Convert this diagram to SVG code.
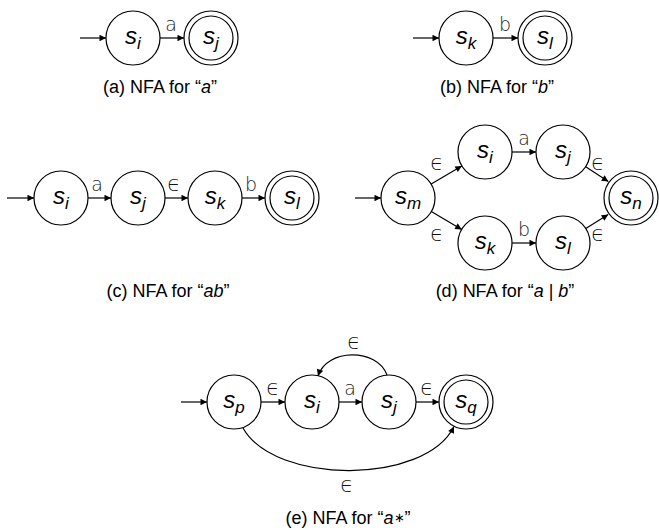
<svg xmlns="http://www.w3.org/2000/svg" width="659" height="530" viewBox="0 0 659 530">
<style>
  .n circle{fill:#fff;stroke:#000;stroke-width:1.2}
  .st{font-family:"Liberation Sans",Arial,sans-serif;font-style:italic;font-size:24px;text-anchor:middle;fill:#000}
  .sub{font-size:17px}
  .e{fill:none;stroke:#000;stroke-width:1.2;marker-end:url(#ah)}
  .lb{font-family:"DejaVu Sans",sans-serif;font-weight:200;font-size:19px;text-anchor:middle;fill:#222}
  .ep{font-family:"DejaVu Sans",sans-serif;font-weight:200;font-size:22px;text-anchor:middle;fill:#111}
  .cap{font-family:"Liberation Sans",Arial,sans-serif;font-size:18px;text-anchor:middle;fill:#000}
  .it{font-style:italic}
  .star{font-size:13px}
</style>
<defs>
  <marker id="ah" viewBox="0 0 10 10" refX="10" refY="5" markerWidth="10" markerHeight="6.5" markerUnits="userSpaceOnUse" orient="auto">
    <path d="M0,0 L10,5 L0,10 z" fill="#000"/>
  </marker>
</defs>

<!-- (a) -->
<g id="a_si" class="n"><circle cx="133" cy="38" r="27"/><text class="st" x="133" y="44">s<tspan class="sub" dy="5">i</tspan></text></g>
<g id="a_sj" class="n"><circle cx="211" cy="38" r="27"/><circle cx="211" cy="38" r="22"/><text class="st" x="211" y="44">s<tspan class="sub" dy="5">j</tspan></text></g>

<!-- (b) -->
<g id="b_sk" class="n"><circle cx="466" cy="38" r="27"/><text class="st" x="466" y="44">s<tspan class="sub" dy="5">k</tspan></text></g>
<g id="b_sl" class="n"><circle cx="545" cy="38" r="27"/><circle cx="545" cy="38" r="22"/><text class="st" x="545" y="44">s<tspan class="sub" dy="5">l</tspan></text></g>

<!-- (c) -->
<g id="c_si" class="n"><circle cx="61" cy="198" r="27"/><text class="st" x="61" y="204">s<tspan class="sub" dy="5">i</tspan></text></g>
<g id="c_sj" class="n"><circle cx="138" cy="198" r="27"/><text class="st" x="138" y="204">s<tspan class="sub" dy="5">j</tspan></text></g>
<g id="c_sk" class="n"><circle cx="215" cy="198" r="27"/><text class="st" x="215" y="204">s<tspan class="sub" dy="5">k</tspan></text></g>
<g id="c_sl" class="n"><circle cx="292" cy="198" r="27"/><circle cx="292" cy="198" r="22"/><text class="st" x="292" y="204">s<tspan class="sub" dy="5">l</tspan></text></g>

<!-- (d) -->
<g id="d_sm" class="n"><circle cx="408" cy="198" r="27"/><text class="st" x="408" y="204">s<tspan class="sub" dy="5">m</tspan></text></g>
<g id="d_si" class="n"><circle cx="485" cy="152" r="27"/><text class="st" x="485" y="158">s<tspan class="sub" dy="5">i</tspan></text></g>
<g id="d_sj" class="n"><circle cx="563" cy="152" r="27"/><text class="st" x="563" y="158">s<tspan class="sub" dy="5">j</tspan></text></g>
<g id="d_sk" class="n"><circle cx="485" cy="243" r="27"/><text class="st" x="485" y="249">s<tspan class="sub" dy="5">k</tspan></text></g>
<g id="d_sl" class="n"><circle cx="563" cy="243" r="27"/><text class="st" x="563" y="249">s<tspan class="sub" dy="5">l</tspan></text></g>
<g id="d_sn" class="n"><circle cx="631" cy="198" r="27"/><circle cx="631" cy="198" r="22"/><text class="st" x="631" y="204">s<tspan class="sub" dy="5">n</tspan></text></g>

<!-- (e) -->
<g id="e_sp" class="n"><circle cx="234" cy="402" r="27"/><text class="st" x="234" y="408">s<tspan class="sub" dy="5">p</tspan></text></g>
<g id="e_si" class="n"><circle cx="312" cy="402" r="27"/><text class="st" x="312" y="408">s<tspan class="sub" dy="5">i</tspan></text></g>
<g id="e_sj" class="n"><circle cx="389" cy="402" r="27"/><text class="st" x="389" y="408">s<tspan class="sub" dy="5">j</tspan></text></g>
<g id="e_sq" class="n"><circle cx="466" cy="402" r="27"/><circle cx="466" cy="402" r="22"/><text class="st" x="466" y="408">s<tspan class="sub" dy="5">q</tspan></text></g>

<g id="connectors">
  <!-- (a) -->
  <path class="e" d="M80,38 H106"/>
  <path class="e" d="M160,38 H184"/>
  <!-- (b) -->
  <path class="e" d="M413,38 H439"/>
  <path class="e" d="M493,38 H518"/>
  <!-- (c) -->
  <path class="e" d="M7,198 H34"/>
  <path class="e" d="M88,198 H111"/>
  <path class="e" d="M165,198 H188"/>
  <path class="e" d="M242,198 H265"/>
  <!-- (d) -->
  <path class="e" d="M355,198 H381"/>
  <path class="e" d="M431.2,184.1 L461.8,165.9"/>
  <path class="e" d="M431.3,211.6 L461.7,229.4"/>
  <path class="e" d="M512,152 H536"/>
  <path class="e" d="M512,243 H536"/>
  <path class="e" d="M585.7,166.7 L608.3,181.6"/>
  <path class="e" d="M585.8,228.6 L608.2,214.4"/>
  <!-- (e) -->
  <path class="e" d="M181,402 H207"/>
  <path class="e" d="M261,402 H285"/>
  <path class="e" d="M339,402 H362"/>
  <path class="e" d="M416,402 H439"/>
  <path class="e" d="M387,375 C377,348 327,348 318,376"/>
  <path class="e" d="M243,428 C275,485 425,485 454,426.5"/>
</g>

<g id="edge-labels">
  <text class="lb" x="171" y="31">a</text>
  <text class="lb" x="505" y="31">b</text>
  <text class="lb" x="97" y="191">a</text>
  <text class="ep" x="174" y="191">ϵ</text>
  <text class="lb" x="251" y="191">b</text>
  <text class="ep" x="437" y="170">ϵ</text>
  <text class="ep" x="437" y="241">ϵ</text>
  <text class="lb" x="524" y="145">a</text>
  <text class="lb" x="524" y="236">b</text>
  <text class="ep" x="598" y="170">ϵ</text>
  <text class="ep" x="598" y="241">ϵ</text>
  <text class="ep" x="273" y="395">ϵ</text>
  <text class="lb" x="350" y="395">a</text>
  <text class="ep" x="427" y="395">ϵ</text>
  <text class="ep" x="354" y="349">ϵ</text>
  <text class="ep" x="347" y="492">ϵ</text>
</g>

<g id="captions">
  <text class="cap" x="160" y="93">(a) NFA for “<tspan class="it">a</tspan>”</text>
  <text class="cap" x="497" y="93">(b) NFA for “<tspan class="it">b</tspan>”</text>
  <text class="cap" x="168" y="297">(c) NFA for “<tspan class="it">ab</tspan>”</text>
  <text class="cap" x="505" y="297">(d) NFA for “<tspan class="it">a</tspan> | <tspan class="it">b</tspan>”</text>
  <text class="cap" x="348" y="524">(e) NFA for “<tspan class="it">a</tspan><tspan class="star" dy="-2">∗</tspan><tspan dy="2">”</tspan></text>
</g>
</svg>
